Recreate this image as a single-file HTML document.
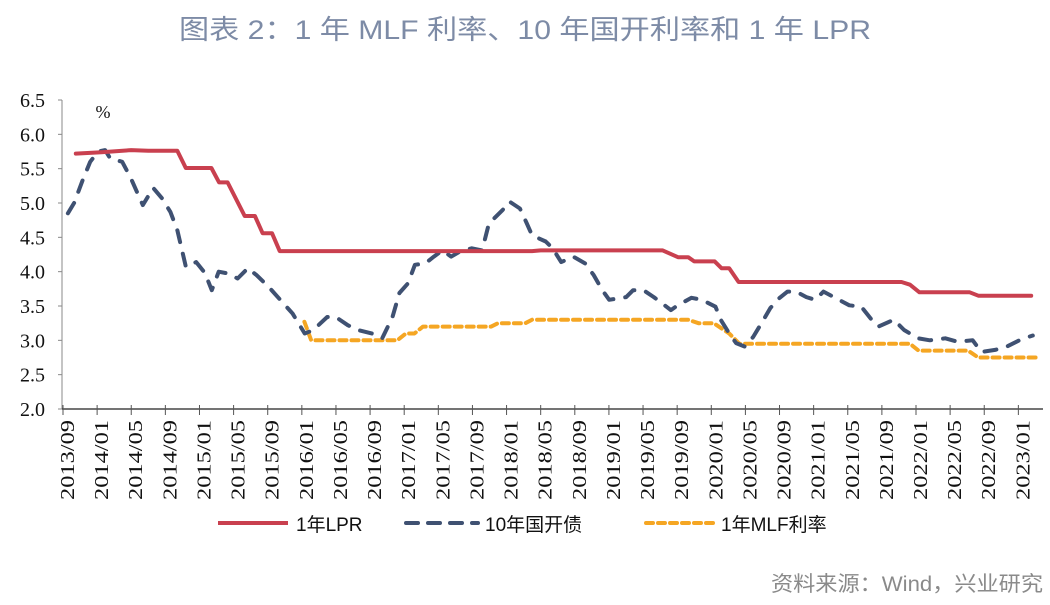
<!DOCTYPE html>
<html><head><meta charset="utf-8"><style>
html,body{margin:0;padding:0;background:#fff;width:1050px;height:605px;overflow:hidden}
svg{display:block}
</style></head><body>
<svg id="chart" width="1050" height="605" xmlns="http://www.w3.org/2000/svg">
<text x="525" y="39" text-anchor="middle" font-family="'Liberation Sans','Noto Sans CJK SC',sans-serif" font-size="27" fill="#7d8ba6" textLength="692" lengthAdjust="spacingAndGlyphs">图表 2：1 年 MLF 利率、10 年国开利率和 1 年 LPR</text>
<text x="103" y="118" text-anchor="middle" font-family="'Liberation Serif',serif" font-size="18" fill="#111">%</text>
<g id="axes"></g><g id="series"></g>
<g>
<line x1="218" y1="523" x2="288" y2="523" stroke="#c9404f" stroke-width="4"/>
<text x="296" y="531" font-family="'Liberation Sans','Noto Sans CJK SC',sans-serif" font-size="19" fill="#111">1年LPR</text>
<line x1="406" y1="523" x2="478" y2="523" stroke="#3f5172" stroke-width="4" stroke-dasharray="12,10" stroke-linecap="round"/>
<text x="485" y="531" font-family="'Liberation Sans','Noto Sans CJK SC',sans-serif" font-size="19" fill="#111">10年国开债</text>
<line x1="646" y1="523" x2="713" y2="523" stroke="#f5a623" stroke-width="4" stroke-dasharray="7,5" stroke-linecap="round"/>
<text x="721" y="531" font-family="'Liberation Sans','Noto Sans CJK SC',sans-serif" font-size="19" fill="#111">1年MLF利率</text>
</g>
<text x="1043" y="591" text-anchor="end" font-family="'Liberation Sans','Noto Sans CJK SC',sans-serif" font-size="21" fill="#8a8a8a" textLength="272" lengthAdjust="spacingAndGlyphs">资料来源：Wind，兴业研究</text>
</svg>
<script>
// months since 2013/09
const xTickLabels=["2013/09","2014/01","2014/05","2014/09","2015/01","2015/05","2015/09","2016/01","2016/05","2016/09","2017/01","2017/05","2017/09","2018/01","2018/05","2018/09","2019/01","2019/05","2019/09","2020/01","2020/05","2020/09","2021/01","2021/05","2021/09","2022/01","2022/05","2022/09","2023/01"];
const yTicks=[2.0,2.5,3.0,3.5,4.0,4.5,5.0,5.5,6.0,6.5];
const lprMonths=[1.5,4.5,8,10,13.4,14.4,17.4,18.3,19.3,21.3,22.5,23.4,24.5,25.4,55,56,70.3,72.1,73.3,74.0,76.4,77.2,78.1,79.2,98.3,99.3,100.4,106.3,107.3,113.5];
const lprValues=[5.72,5.74,5.77,5.76,5.76,5.51,5.51,5.30,5.30,4.81,4.81,4.56,4.56,4.30,4.30,4.31,4.31,4.21,4.21,4.15,4.15,4.05,4.05,3.85,3.85,3.81,3.70,3.70,3.65,3.65];
const cdbMonths=[0.57,1.3,2.3,3.19,4.12,4.93,5.53,6.94,7.96,9.36,10.57,11.59,12.59,13.41,14.41,15.62,16.63,17.44,18.25,19.46,20.47,21.68,22.68,24.1,25.11,26.92,28.34,29.34,30.97,31.97,33.39,34.6,36.21,37.42,38.63,39.44,40.45,41.26,42.47,43.48,44.48,45.5,46.5,47.92,49.13,49.93,51.55,52.35,53.56,54.39,54.99,56.59,57.4,58.4,59.81,61.21,62.22,63.22,64.03,66.03,66.84,68.05,69.26,71.27,72.07,73.68,74.89,76.49,77.1,78.1,78.91,79.91,80.92,82.13,82.92,83.94,84.94,85.94,87.15,88.16,89.16,90.37,92.18,93.59,94.79,95.59,97.4,98.6,100.22,101.62,103.43,104.84,106.65,107.65,109.27,110.67,112.29,113.69];
const cdbValues=[4.85,5.0,5.33,5.6,5.75,5.77,5.65,5.6,5.36,4.97,5.22,5.07,4.87,4.6,4.07,4.14,3.98,3.73,4.0,3.97,3.9,4.05,3.95,3.78,3.64,3.39,3.1,3.15,3.34,3.34,3.22,3.15,3.1,3.03,3.34,3.69,3.83,4.1,4.12,4.22,4.31,4.22,4.29,4.34,4.31,4.70,4.9,5.02,4.92,4.7,4.53,4.44,4.34,4.14,4.22,4.12,3.95,3.73,3.59,3.63,3.73,3.73,3.63,3.44,3.51,3.62,3.59,3.49,3.3,3.1,2.96,2.91,3.05,3.3,3.47,3.61,3.71,3.71,3.63,3.59,3.71,3.63,3.51,3.49,3.3,3.2,3.3,3.15,3.03,3.0,3.03,2.98,3.0,2.83,2.86,2.91,3.01,3.07];
const mlfMonths=[28.3,29.1,39.2,40.2,41.2,42.2,50.2,51.0,54.2,55.0,73.3,74.5,76.3,78.1,79.3,99.3,100.3,106.1,107.3,114.3];
const mlfValues=[3.27,3.0,3.0,3.10,3.10,3.20,3.20,3.25,3.25,3.30,3.30,3.25,3.25,3.10,2.95,2.95,2.85,2.85,2.75,2.75];

const NS="http://www.w3.org/2000/svg";
const X0=63, MW=8.53, YB=409, YT=100, VMIN=2, VMAX=6.5;
function xs(m){return X0+m*MW;}
function ys(v){return YB-(v-VMIN)/(VMAX-VMIN)*(YB-YT);}
function mk(tag,attrs,parent){const e=document.createElementNS(NS,tag);for(const k in attrs)e.setAttribute(k,attrs[k]);parent.appendChild(e);return e;}
const axes=document.getElementById('axes');
let e=mk('line',{x1:X0-1,y1:YT,x2:X0-1,y2:YB,stroke:'#888','stroke-width':1},axes);


e=mk('line',{x1:X0-1,y1:YB,x2:1043,y2:YB,stroke:'#222','stroke-width':1.3},axes);


yTicks.forEach(v=>{
  const t=mk('text',{x:45,y:ys(v)+7,'text-anchor':'end','font-family':"'Liberation Serif',serif",'font-size':20,fill:'#111'},axes);
  t.textContent=v.toFixed(1);
  
  
  const tk=mk('line',{x1:X0-5,y1:ys(v),x2:X0-1,y2:ys(v),stroke:'#888'},axes);
  
  
});
xTickLabels.forEach((lab,i)=>{
  const x=xs(i*4);
  const tk=mk('line',{x1:x,y1:YB-4,x2:x,y2:YB+6,stroke:'#555'},axes);
  
  
  const t=mk('text',{x:0,y:0,'text-anchor':'end','font-family':"'Liberation Serif',serif",'font-size':20,fill:'#111',textLength:80,lengthAdjust:'spacingAndGlyphs',transform:`translate(${x+11},${YB+11}) rotate(-90)`},axes);
  t.textContent=lab;
  
  
});
const ser=document.getElementById('series');
function line(ms,vs,attrs,name){
  const d=ms.map((m,i)=>(i?'L':'M')+xs(m).toFixed(1)+','+ys(vs[i]).toFixed(1)).join(' ');
  const p=mk('path',Object.assign({d:d,fill:'none','stroke-linejoin':'round'},attrs),ser);
  
  
}
line(mlfMonths,mlfValues,{stroke:'#f5a623','stroke-width':4,'stroke-dasharray':'7,5','stroke-linecap':'round'},'mlf-rate-line');
line(cdbMonths,cdbValues,{stroke:'#3f5172','stroke-width':4,'stroke-dasharray':'12,12','stroke-linecap':'round'},'cdb-10y-line');
line(lprMonths,lprValues,{stroke:'#c9404f','stroke-width':4,'stroke-linecap':'round'},'lpr-1y-line');
</script>
</body></html>
